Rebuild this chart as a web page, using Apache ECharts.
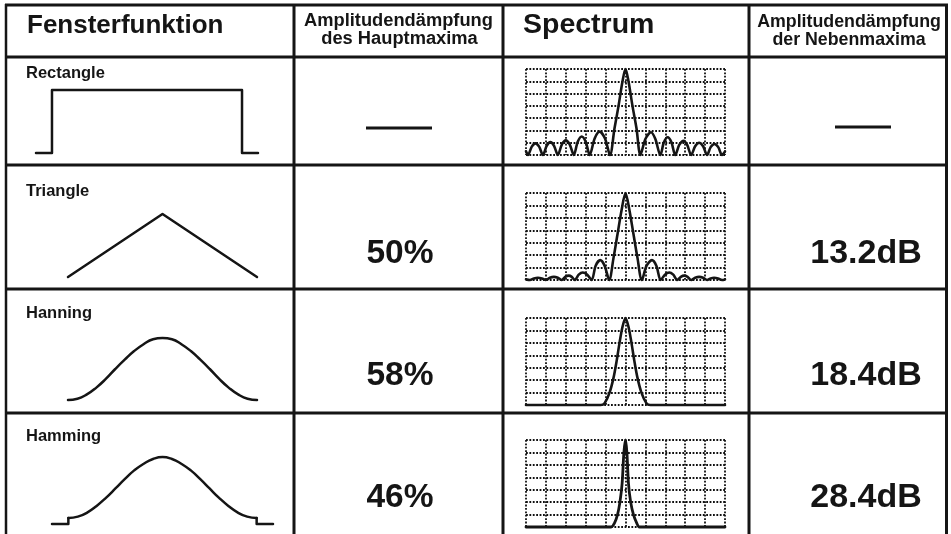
<!DOCTYPE html>
<html><head><meta charset="utf-8">
<script src="https://cdn.jsdelivr.net/npm/echarts@6/dist/echarts.min.js"></script>
<style>html,body{margin:0;padding:0;background:#fff}#c{width:951px;height:534px}</style>
</head><body><div id="c"></div>
<script>
// ---------- data ----------
const headers = ['Fensterfunktion', 'Amplitudendämpfung', 'des Hauptmaxima', 'Spectrum', 'Amplitudendämpfung', 'der Nebenmaxima'];
const categories = ['Rectangle', 'Triangle', 'Hanning', 'Hamming'];
const mainLobeLoss = [null, '50%', '58%', '46%'];
const sideLobeLevel = [null, '13.2dB', '18.4dB', '28.4dB'];

// window shapes (x: 0..100 of drawing width, y: 0..1)
const winRect = [[0,0],[7.2,0],[7.2,1],[92.8,1],[92.8,0],[100,0]];
const winTri = [[0,0],[50,1],[100,0]];
const winHann = [[0,0],[5,0.02],[10,0.09],[15,0.2],[20,0.34],[25,0.5],[30,0.65],[35,0.79],[40,0.9],[45,0.98],[50,1],
  [55,0.98],[60,0.9],[65,0.79],[70,0.65],[75,0.5],[80,0.34],[85,0.2],[90,0.09],[95,0.02],[100,0]];
const winHammFootL = [[0,0],[7.4,0],[7.4,0.09]];
const winHammFootR = [[92.6,0.09],[92.6,0],[100,0]];
const winHamm = [[7.4,0.09],[11.7,0.11],[15.9,0.17],[20.2,0.27],[24.4,0.39],[28.7,0.53],[32.9,0.67],[37.2,0.8],[41.5,0.9],[45.7,0.97],[50,1],
  [54.3,0.97],[58.5,0.9],[62.8,0.8],[67.1,0.67],[71.3,0.53],[75.6,0.39],[79.8,0.27],[84.1,0.17],[88.3,0.11],[92.6,0.09]];

// spectra (x: -5..5 divisions, y: 0..7 divisions)
const specRect = [[-5,0.3],[-4.9,0],[-4.71,0.68],[-4.525,0.95],[-4.34,0.68],[-4.15,0],
  [-3.96,0.75],[-3.775,1.05],[-3.59,0.75],[-3.4,0],[-3.2,0.85],[-3.0,1.2],[-2.8,0.85],[-2.6,0],
  [-2.4,1.07],[-2.2,1.5],[-2.0,1.07],[-1.8,0],[-1.55,1.35],[-1.3,1.9],[-1.03,1.35],[-0.78,0],
  [-0.55,2.2],[-0.35,4.0],[-0.15,6.0],[0,7],[0.15,6.0],[0.35,4.0],[0.55,2.2],[0.75,0],
  [1.0,1.3],[1.28,1.85],[1.5,1.3],[1.75,0],[1.93,1.03],[2.12,1.45],[2.31,1.03],[2.5,0],
  [2.7,0.82],[2.92,1.15],[3.1,0.82],[3.3,0],[3.5,0.71],[3.7,1.0],[3.9,0.71],[4.1,0],
  [4.28,0.64],[4.47,0.9],[4.66,0.64],[4.85,0],[5,0.3]];
const specTri = [[-5,0.05],[-4.8,0],[-4.6,0.13],[-4.4,0.18],[-4.2,0.13],[-4.0,0],[-3.8,0.18],[-3.6,0.25],[-3.4,0.18],[-3.2,0],
  [-3.03,0.25],[-2.85,0.35],[-2.7,0.25],[-2.55,0],[-2.35,0.43],[-2.15,0.6],[-1.92,0.43],[-1.7,0],
  [-1.5,1.15],[-1.27,1.6],[-1.05,1.15],[-0.82,0],[-0.6,1.8],[-0.4,3.7],[-0.2,5.6],[0,7],[0.2,5.6],[0.4,3.7],[0.6,1.8],[0.82,0],
  [1.06,1.15],[1.33,1.6],[1.55,1.15],[1.77,0],[1.98,0.43],[2.2,0.6],[2.4,0.43],[2.6,0],
  [2.78,0.25],[2.95,0.35],[3.12,0.25],[3.3,0],[3.5,0.18],[3.7,0.25],[3.9,0.18],[4.1,0],
  [4.28,0.13],[4.45,0.18],[4.65,0.13],[4.85,0],[5,0.05]];
const specHann = [[-5,0],[-1.25,0],[-1.05,0.15],[-0.8,1.0],[-0.6,2.2],[-0.45,3.5],[-0.3,5.0],[-0.15,6.3],[0,7],
  [0.15,6.3],[0.3,5.0],[0.45,3.5],[0.6,2.2],[0.8,1.0],[1.05,0.15],[1.25,0],[5,0]];
const specHamm = [[-5,0],[-0.72,0],[-0.56,0.3],[-0.4,1.0],[-0.28,2.0],[-0.17,3.5],[-0.08,6.0],[0,7],
  [0.07,6.0],[0.15,3.5],[0.26,2.0],[0.4,1.0],[0.57,0.3],[0.7,0],[5,0]];

// ---------- layout ----------
const INK = '#151515';
const winBoxes = [
  {left:36, top:90, width:222, height:63},
  {left:68, top:214, width:189, height:63},
  {left:68, top:338, width:189, height:62},
  {left:52, top:457, width:221, height:67}
];
const specBoxes = [
  {left:526, top:69, width:199, height:86},
  {left:526, top:193, width:199, height:87},
  {left:526, top:318, width:199, height:87},
  {left:526, top:440, width:199, height:87}
];
const rowBaselines = [79, 197, 319, 442];
const valBaselines = [128, 266, 388, 510];

const grids = [], xAxes = [], yAxes = [], series = [];
winBoxes.forEach((b) => {
  grids.push(Object.assign({show:false}, b));
  const gi = grids.length - 1;
  xAxes.push({type:'value', gridIndex:gi, min:0, max:100, show:false});
  yAxes.push({type:'value', gridIndex:gi, min:0, max:1, show:false});
});
specBoxes.forEach((b) => {
  grids.push(Object.assign({show:false}, b));
  const gi = grids.length - 1;
  const split = {show:true, showMinLine:true, showMaxLine:true, lineStyle:{color:'#111', width:1.8, type:[1.8,1.6]}};
  xAxes.push({type:'value', gridIndex:gi, min:-5, max:5, interval:1,
    axisLine:{show:false}, axisTick:{show:false}, axisLabel:{show:false}, splitLine:split});
  yAxes.push({type:'value', gridIndex:gi, min:0, max:7, interval:1,
    axisLine:{show:false}, axisTick:{show:false}, axisLabel:{show:false}, splitLine:split});
});
function line(data, gi, smooth, w) {
  series.push({type:'line', xAxisIndex:gi, yAxisIndex:gi, data:data, showSymbol:false, symbol:'none',
    smooth:smooth, clip:false, silent:true, animation:false,
    lineStyle:{color:INK, width:w, join:'round', cap:'round'}});
}
line(winRect, 0, false, 2.5);
line(winTri, 1, false, 2.5);
line(winHann, 2, true, 2.5);
line(winHammFootL, 3, false, 2.5);
line(winHamm, 3, true, 2.5);
line(winHammFootR, 3, false, 2.5);
line(specRect, 4, 0.3, 2.6);
line(specTri, 5, 0.3, 2.6);
line(specHann, 6, 0.3, 2.6);
line(specHamm, 7, 0.3, 2.8);

// ---------- table & text ----------
const G = [];
function hl(y, x1, x2, w) { G.push({type:'line', silent:true, shape:{x1:x1, y1:y, x2:x2, y2:y}, style:{stroke:INK, lineWidth:w}}); }
function vl(x, y1, y2, w) { G.push({type:'line', silent:true, shape:{x1:x, y1:y1, x2:x, y2:y2}, style:{stroke:INK, lineWidth:w}}); }
function tx(t, x, baseline, size, align) {
  G.push({type:'text', silent:true, x:x, y:baseline - 0.36*size,
    style:{text:t, font:'bold ' + size + 'px "Liberation Sans", Arial, sans-serif', fill:INK,
      textAlign:align, textVerticalAlign:'middle'}});
}
hl(5, 5, 948, 3);
hl(57, 5, 948, 3);
hl(165, 5, 948, 3);
hl(289, 5, 948, 3);
hl(413, 5, 948, 3);
vl(6, 4, 534, 2.5);
vl(294, 4, 534, 3);
vl(503, 4, 534, 3);
vl(749, 4, 534, 3);
vl(946.5, 4, 534, 3);

tx(headers[0], 27, 35, 26, 'left');
tx(headers[1], 398.5, 28, 18.3, 'center');
tx(headers[2], 399.5, 46, 18.3, 'center');
tx(headers[3], 523, 35, 28.5, 'left');
tx(headers[4], 849, 29, 17.8, 'center');
tx(headers[5], 849, 47, 17.8, 'center');

categories.forEach((c, i) => tx(c, 26, rowBaselines[i], 16.5, 'left'));
mainLobeLoss.forEach((v, i) => {
  if (v === null) hl(valBaselines[i], 366, 432, 3);
  else tx(v, 400, valBaselines[i], 33.5, 'center');
});
sideLobeLevel.forEach((v, i) => {
  if (v === null) hl(valBaselines[i] - 1, 835, 891, 3);
  else tx(v, 866, valBaselines[i], 34, 'center');
});

const chart = echarts.init(document.getElementById('c'), null, {renderer:'canvas'});
chart.setOption({
  animation:false,
  backgroundColor:'#ffffff',
  grid:grids, xAxis:xAxes, yAxis:yAxes, series:series,
  graphic:{elements:G}
});
</script>
</body></html>
